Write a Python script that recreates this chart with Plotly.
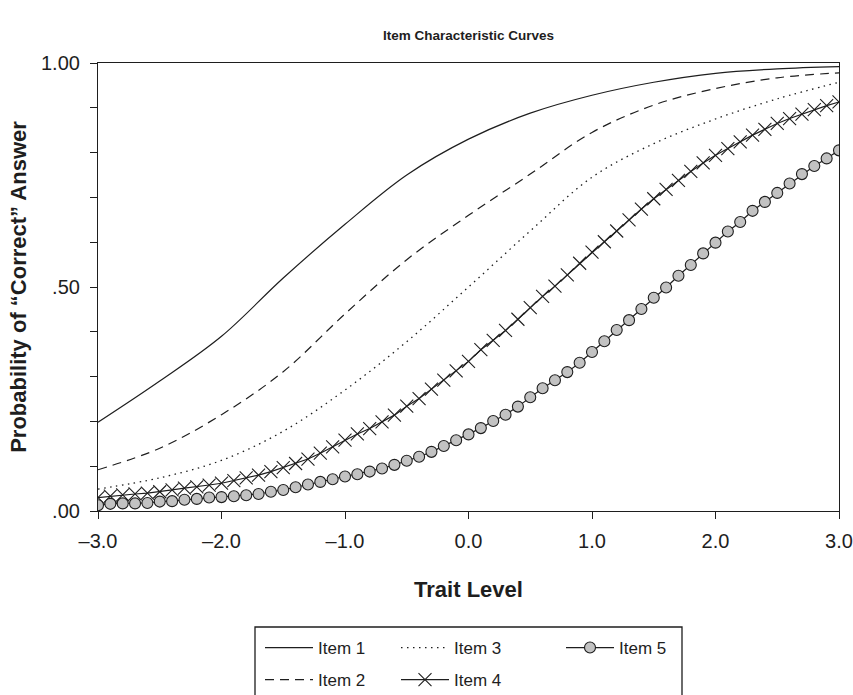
import plotly.graph_objects as go

# ---------------- data ----------------
THETA_COARSE = [-3.0, -2.5, -2.0, -1.5, -1.0, -0.5, 0.0, 0.5, 1.0, 1.5, 2.0, 2.5, 3.0]

ITEM1 = [0.198, 0.290, 0.390, 0.520, 0.640, 0.750, 0.830, 0.888, 0.928, 0.957, 0.977, 0.987, 0.992]
ITEM2 = [0.092, 0.140, 0.215, 0.311, 0.440, 0.561, 0.660, 0.752, 0.845, 0.906, 0.943, 0.967, 0.978]
ITEM3 = [0.049, 0.074, 0.113, 0.178, 0.270, 0.378, 0.500, 0.625, 0.745, 0.820, 0.875, 0.920, 0.957]

THETA_FINE = [-3.0, -2.9, -2.8, -2.7, -2.6, -2.5, -2.4, -2.3, -2.2, -2.1,
              -2.0, -1.9, -1.8, -1.7, -1.6, -1.5, -1.4, -1.3, -1.2, -1.1,
              -1.0, -0.9, -0.8, -0.7, -0.6, -0.5, -0.4, -0.3, -0.2, -0.1,
              0.0, 0.1, 0.2, 0.3, 0.4, 0.5, 0.6, 0.7, 0.8, 0.9,
              1.0, 1.1, 1.2, 1.3, 1.4, 1.5, 1.6, 1.7, 1.8, 1.9,
              2.0, 2.1, 2.2, 2.3, 2.4, 2.5, 2.6, 2.7, 2.8, 2.9, 3.0]

ITEM4 = [0.030, 0.033, 0.036, 0.038, 0.040, 0.043, 0.047, 0.051, 0.054, 0.058,
         0.062, 0.068, 0.074, 0.080, 0.088, 0.097, 0.106, 0.116, 0.129, 0.143,
         0.158, 0.172, 0.184, 0.199, 0.214, 0.234, 0.251, 0.272, 0.292, 0.313,
         0.334, 0.360, 0.381, 0.403, 0.428, 0.454, 0.479, 0.502, 0.527, 0.553,
         0.578, 0.601, 0.625, 0.650, 0.674, 0.697, 0.718, 0.738, 0.758, 0.777,
         0.794, 0.809, 0.824, 0.839, 0.852, 0.865, 0.876, 0.886, 0.896, 0.905, 0.913]

ITEM5 = [0.013, 0.016, 0.017, 0.017, 0.018, 0.021, 0.022, 0.025, 0.027, 0.030,
         0.031, 0.033, 0.035, 0.038, 0.043, 0.047, 0.053, 0.059, 0.065, 0.071,
         0.077, 0.082, 0.088, 0.095, 0.103, 0.112, 0.121, 0.132, 0.145, 0.158,
         0.171, 0.185, 0.201, 0.215, 0.233, 0.254, 0.274, 0.292, 0.310, 0.331,
         0.355, 0.379, 0.404, 0.426, 0.451, 0.476, 0.499, 0.525, 0.549, 0.575,
         0.599, 0.624, 0.645, 0.670, 0.690, 0.710, 0.731, 0.752, 0.770, 0.787, 0.805]

X_TICKS = [-3, -2, -1, 0, 1, 2, 3]
X_TICK_TEXT = ["\u20133.0", "\u20132.0", "\u20131.0", "0.0", "1.0", "2.0", "3.0"]
Y_TICKS = [0.0, 0.1, 0.2, 0.3, 0.4, 0.5, 0.6, 0.7, 0.8, 0.9, 1.0]
Y_TICK_TEXT = [".00", "", "", "", "", ".50", "", "", "", "", "1.00"]

# ---------------- styling ----------------
INK = "#1e1e1e"
FONT = "Liberation Sans, Arial, Helvetica, sans-serif"
W, H = 853, 695
ML, MR, MT, MB = 98, 14, 63, 184
PW, PH = W - ML - MR, H - MT - MB


def px_x(p):
    return (p - ML) / PW


def px_y(p):
    return (H - MB - p) / PH


fig = go.Figure()

fig.add_trace(go.Scatter(x=THETA_COARSE, y=ITEM1, mode="lines", name="Item 1",
                         line=dict(color=INK, width=1.2, shape="spline"),
                         legend="legend", legendgroup="g1"))
fig.add_trace(go.Scatter(x=THETA_COARSE, y=ITEM2, mode="lines", name="Item 2",
                         line=dict(color=INK, width=1.2, dash="9px,6px", shape="spline"),
                         legend="legend", legendgroup="g2"))
fig.add_trace(go.Scatter(x=THETA_COARSE, y=ITEM3, mode="lines", name="Item 3",
                         line=dict(color=INK, width=1.3, dash="1.5px,4.5px", shape="spline"),
                         legend="legend2", legendgroup="g3"))
fig.add_trace(go.Scatter(x=THETA_FINE, y=ITEM4, mode="lines+markers", name="Item 4",
                         line=dict(color=INK, width=1.2),
                         marker=dict(symbol="x-thin-open", size=13,
                                     line=dict(color=INK, width=1.1)),
                         legend="legend2", legendgroup="g4"))
fig.add_trace(go.Scatter(x=THETA_FINE, y=ITEM5, mode="lines+markers", name="Item 5",
                         line=dict(color=INK, width=1.2),
                         marker=dict(symbol="circle", size=11, color="#c2c2c2",
                                     line=dict(color=INK, width=1.1)),
                         legend="legend3", legendgroup="g5"))

legend_common = dict(
    orientation="v",
    bgcolor="rgba(0,0,0,0)",
    font=dict(family=FONT, size=17, color=INK),
    xanchor="left", yanchor="top",
    tracegroupgap=7,
    itemwidth=48,
)
LEG_Y = px_y(630)

fig.update_layout(
    width=W, height=H,
    margin=dict(l=ML, r=MR, t=MT, b=MB, autoexpand=False),
    paper_bgcolor="white", plot_bgcolor="white",
    font=dict(family=FONT, size=17, color=INK),
    title=dict(text="<b>Item Characteristic Curves</b>",
               font=dict(family=FONT, size=13.5, color=INK),
               x=0.5, xref="paper", xanchor="center",
               y=1 - 35 / H, yref="container", yanchor="middle"),
    xaxis=dict(range=[-3, 3], tickvals=X_TICKS, ticktext=X_TICK_TEXT,
               ticks="outside", ticklen=7, tickwidth=1.2, tickcolor=INK,
               ticklabelstandoff=5,
               showline=True, linecolor=INK, linewidth=1.2, mirror=True,
               showgrid=False, zeroline=False,
               tickfont=dict(family=FONT, size=20, color=INK),
               title=dict(text="<b>Trait Level</b>", standoff=30,
                          font=dict(family=FONT, size=22, color=INK))),
    yaxis=dict(range=[0, 1], tickvals=Y_TICKS, ticktext=Y_TICK_TEXT,
               ticks="outside", ticklen=7, tickwidth=1.2, tickcolor=INK,
               ticklabelstandoff=6,
               showline=True, linecolor=INK, linewidth=1.2, mirror=True,
               showgrid=False, zeroline=False,
               tickfont=dict(family=FONT, size=20, color=INK),
               title=dict(text="<b>Probability of \u201cCorrect\u201d Answer</b>",
                          standoff=8,
                          font=dict(family=FONT, size=22, color=INK))),
    legend=dict(x=px_x(260), y=LEG_Y, **legend_common),
    legend2=dict(x=px_x(396), y=LEG_Y, **legend_common),
    legend3=dict(x=px_x(561), y=LEG_Y, **legend_common),
    shapes=[dict(type="rect", xref="paper", yref="paper",
                 x0=px_x(255), x1=px_x(682),
                 y0=px_y(705), y1=px_y(627),
                 line=dict(color=INK, width=1.3), fillcolor="rgba(0,0,0,0)")],
)

fig.write_html("out.html", config={"displayModeBar": False},
               post_script="document.body.style.margin='0';document.body.style.overflow='hidden';")
